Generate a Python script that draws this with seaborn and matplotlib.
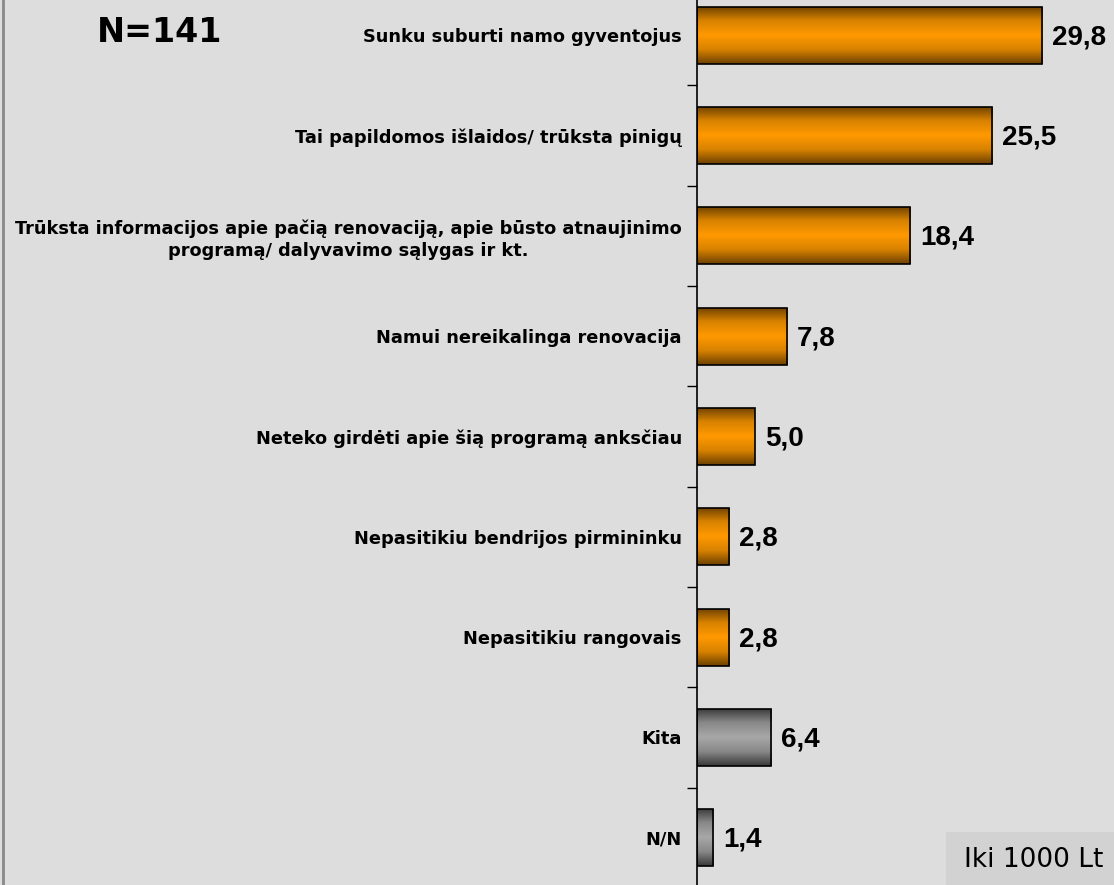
import numpy as np
import pandas as pd
import matplotlib
matplotlib.use("Agg")
import matplotlib.pyplot as plt
import seaborn as sns
from matplotlib.colors import LinearSegmentedColormap

categories = [
    "Sunku suburti namo gyventojus",
    "Tai papildomos išlaidos/ trūksta pinigų",
    "Trūksta informacijos apie pačią renovaciją, apie būsto atnaujinimo\nprogramą/ dalyvavimo sąlygas ir kt.",
    "Namui nereikalinga renovacija",
    "Neteko girdėti apie šią programą anksčiau",
    "Nepasitikiu bendrijos pirmininku",
    "Nepasitikiu rangovais",
    "Kita",
    "N/N",
]
values = [29.8, 25.5, 18.4, 7.8, 5.0, 2.8, 2.8, 6.4, 1.4]
value_labels = ["29,8", "25,5", "18,4", "7,8", "5,0", "2,8", "2,8", "6,4", "1,4"]
groups = ["main"] * 7 + ["other"] * 2
n_label = "N=141"
corner_label = "Iki 1000 Lt"

df = pd.DataFrame({"cat": categories, "val": values, "grp": groups})

sns.set_theme(style="white")
plt.rcParams["text.color"] = "black"
plt.rcParams["ytick.color"] = "black"
plt.rcParams["ytick.labelcolor"] = "black"
bg = "#dddddd"
fig = plt.figure(figsize=(11.14, 8.85), dpi=100, facecolor=bg)
ax = fig.add_axes([0.6257, 0.0, 0.3743, 1.0])
ax.set_facecolor(bg)

sns.barplot(data=df, y="cat", x="val", hue="grp", orient="h", ax=ax,
            palette={"main": "#ff9900", "other": "#a0a0a0"}, dodge=False,
            width=0.57, edgecolor="black", linewidth=1.2, legend=False,
            saturation=1)

cmap_o = LinearSegmentedColormap.from_list("o", ["#6b4000", "#d88200", "#ff9900", "#d88200", "#6b4000"])
cmap_g = LinearSegmentedColormap.from_list("g", ["#383838", "#888888", "#a8a8a8", "#888888", "#383838"])
grad = np.linspace(0, 1, 256).reshape(-1, 1)
patches = [p for p in ax.patches if p.get_width() > 0]
for p in patches:
    x0, y0 = p.get_x(), p.get_y()
    w, h = p.get_width(), p.get_height()
    is_gray = abs(p.get_facecolor()[0] - p.get_facecolor()[1]) < 0.05
    im = ax.imshow(grad, cmap=cmap_g if is_gray else cmap_o, aspect="auto",
                   extent=[x0, x0 + w, y0 + h, y0], zorder=p.get_zorder() + 0.1,
                   interpolation="bilinear")
    im.set_clip_path(p)
    p.set_facecolor("none")
    p.set_zorder(p.get_zorder() + 0.2)

for i, (v, lab) in enumerate(zip(values, value_labels)):
    ax.text(v + 0.85, i + 0.02, lab, va="center", ha="left", fontsize=20,
            fontweight="bold", family="Liberation Sans", color="black")

ax.set_xlim(0, 36)
ax.set_ylim(8.47, -0.35)
ax.set_xlabel("")
ax.set_ylabel("")
ax.set_xticks([])
ax.set_yticks(range(len(categories)))
ax.set_yticklabels(categories, fontsize=12.8, fontweight="bold",
                   family="DejaVu Sans", linespacing=1.3, color="black")
ax.set_yticks(np.arange(0.5, len(categories) - 0.5, 1.0), minor=True)
ax.tick_params(axis="y", which="minor", length=7, width=1, color="black", direction="out", left=True)
for lbl in ax.get_yticklabels():
    lbl.set_horizontalalignment("right")
    lbl.set_multialignment("center")
ax.tick_params(axis="y", which="major", length=0, pad=11)
for s in ["top", "right", "bottom"]:
    ax.spines[s].set_visible(False)
ax.spines["left"].set_color("black")
ax.spines["left"].set_linewidth(1.2)

fig.text(0.087, 0.963, n_label, fontsize=24, fontweight="bold", family="DejaVu Sans",
         ha="left", va="center", color="black")
fig.add_artist(plt.Line2D([0.003, 0.003], [0, 1], color="#888888", lw=2))
fig.add_artist(plt.Rectangle((946 / 1114, 0), 0.2, 53 / 885, facecolor="#d2d2d2",
                             edgecolor="none", transform=fig.transFigure))
fig.text(964 / 1114, 0.028, corner_label, fontsize=19, family="DejaVu Sans", ha="left",
         va="center", color="black")

fig.savefig("out.png", dpi=100, facecolor=bg)
